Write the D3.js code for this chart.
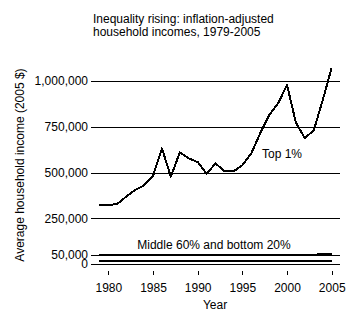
<!DOCTYPE html>
<html>
<head>
<meta charset="utf-8">
<script src="https://cdn.jsdelivr.net/npm/d3@7"></script>
<style>
  html, body { margin: 0; padding: 0; background: #fff; }
  svg { display: block; font-family: "Liberation Sans", Arial, sans-serif; }
  text { fill: #000; }
</style>
</head>
<body>
<svg id="chart" width="346" height="321"></svg>
<script>
// Average household income, inflation adjusted (2005 dollars)
const years = d3.range(1979, 2006);
const top1 = [322000, 322000, 328000, 368000, 404000, 430000, 481000, 632000, 477000, 610000,
              577000, 557000, 493000, 550000, 506000, 506000, 539000, 605000, 714000, 814000,
              878000, 978000, 772000, 687000, 732000, 896000, 1073000];
const middle60 = [48000, 48000, 48000, 48000, 48000, 48000, 48000, 48000, 48000, 48000,
                  48000, 48000, 48000, 48000, 48000, 48000, 50000, 50000, 50000, 50000,
                  50000, 50000, 50000, 50000, 50000, 55000, 55000];
const bottom20 = [15000, 15000, 15000, 15000, 15000, 15000, 15000, 15000, 15000, 15000,
                  15000, 15000, 15000, 15000, 15000, 15000, 15000, 15000, 15000, 15000,
                  15000, 15000, 15000, 15000, 15000, 15000, 15000];
const yTicks = [0, 50000, 250000, 500000, 750000, 1000000];
const xTicks = [1980, 1985, 1990, 1995, 2000, 2005];
const titleLines = ["Inequality rising: inflation-adjusted", "household incomes, 1979-2005"];

const svg = d3.select("#chart");
const x = d3.scaleLinear().domain([1979, 2005]).range([99.4, 331.7]);
const y = d3.scaleLinear().domain([0, 1000000]).range([264, 81]);
const gridLeft = 91, gridRight = 340;

// Title
svg.append("text")
  .attr("x", 93).attr("y", 23)
  .attr("font-size", 12)
  .selectAll("tspan").data(titleLines).join("tspan")
  .attr("x", 93).attr("dy", (d, i) => i === 0 ? 0 : 13)
  .text(d => d);

// Horizontal gridlines with value labels
const yAxis = d3.axisLeft(y)
  .tickValues(yTicks)
  .tickSizeInner(-(gridRight - gridLeft))
  .tickSizeOuter(0)
  .tickPadding(3)
  .tickFormat(d3.format(","));
const gy = svg.append("g").attr("transform", `translate(${gridLeft},0)`).call(yAxis);
gy.select(".domain").remove();
gy.selectAll("line").attr("stroke", "#000").attr("shape-rendering", "crispEdges");
gy.selectAll("text").attr("font-size", 12).attr("font-family", "Liberation Sans, Arial, sans-serif").attr("fill", "#000");

// Year ticks
const xAxis = d3.axisBottom(x)
  .tickValues(xTicks)
  .tickSize(4)
  .tickPadding(9)
  .tickFormat(d3.format("d"));
const gx = svg.append("g").attr("transform", "translate(0,270.5)").call(xAxis);
gx.select(".domain").remove();
gx.selectAll("line").attr("stroke", "#000").attr("shape-rendering", "crispEdges");
gx.selectAll("text").attr("font-size", 12).attr("font-family", "Liberation Sans, Arial, sans-serif").attr("fill", "#000");

// Axis titles
svg.append("text")
  .attr("x", 215).attr("y", 309)
  .attr("text-anchor", "middle")
  .attr("font-size", 12)
  .text("Year");
svg.append("text")
  .attr("transform", "translate(24,165) rotate(-90)")
  .attr("text-anchor", "middle")
  .attr("font-size", 12)
  .text("Average household income (2005 $)");

// Income series
const line = d3.line().x((d, i) => x(years[i])).y(d => y(d));
[top1, middle60, bottom20].forEach(series => {
  svg.append("path")
    .datum(series)
    .attr("d", line)
    .attr("fill", "none")
    .attr("stroke", "#000")
    .attr("stroke-width", 2)
    .attr("stroke-linejoin", "round")
    .attr("shape-rendering", "crispEdges");
});

// Series labels
svg.append("text")
  .attr("x", 262).attr("y", 158)
  .attr("font-size", 12)
  .text("Top 1%");
svg.append("text")
  .attr("x", 214).attr("y", 249)
  .attr("text-anchor", "middle")
  .attr("font-size", 12)
  .text("Middle 60% and bottom 20%");
</script>
</body>
</html>
